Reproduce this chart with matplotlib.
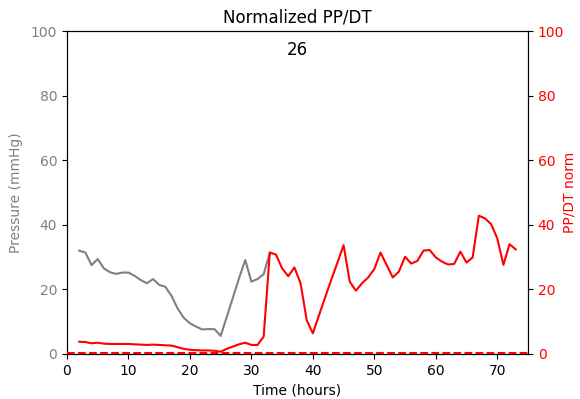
import matplotlib
matplotlib.use("Agg")
import matplotlib.pyplot as plt
import numpy as np

# %% Data
hours_p = np.arange(2, 34)
pressure = [32, 31.4, 27.5, 29.4, 26.5, 25.3, 24.8, 25.2, 25.2, 24.2, 22.9,
            21.9, 23.2, 21.4, 20.8, 18, 14.1, 11.2, 9.5, 8.5, 7.6, 7.7, 7.7,
            5.6, 11.5, 17.5, 23.5, 29.1, 22.4, 23.2, 24.7, 31.4]

hours_n = np.arange(2, 74)
ppdt_norm = [3.8, 3.7, 3.3, 3.5, 3.2, 3.1, 3.1, 3.1, 3.1, 3.0, 2.9, 2.8,
             2.9, 2.8, 2.7, 2.6, 2.1, 1.6, 1.3, 1.2, 1.1, 1.1, 1.0, 0.7,
             1.6, 2.3, 3.0, 3.5, 2.8, 2.8, 5.4, 31.4, 30.8, 26.5, 24.1,
             26.8, 21.9, 10.5, 6.4, 12, 17.5, 23, 28.3, 33.7, 22.4, 19.6,
             21.9, 23.7, 26.3, 31.4, 27.6, 23.7, 25.5, 30.1, 28, 28.8, 32,
             32.2, 29.9, 28.6, 27.7, 27.9, 31.7, 28.3, 29.9, 42.8, 42, 40.2,
             35.8, 27.6, 34, 32.4]

label_num = "26"

# %% Plot
fig, ax = plt.subplots(figsize=(5.8, 3.99), dpi=100)
fig.subplots_adjust(left=0.1155, right=0.9103, bottom=0.1128, top=0.9223)

ax.plot(hours_p, pressure, color="gray", lw=1.5)
ax.set_ylim(0, 100)
ax.set_xlim(0, 75)
ax.set_ylabel("Pressure (mmHg)", color="gray", labelpad=5.5)
ax.tick_params(axis="y", labelcolor="gray")
ax.set_xlabel("Time (hours)")
ax.set_title("Normalized PP/DT")
ax.text(0.5, 0.94, label_num, transform=ax.transAxes, ha="center",
        va="center", fontsize=12)

ax2 = ax.twinx()
ax2.plot(hours_n, ppdt_norm, color="red", lw=1.5)
ax2.axhline(0.2, color="red", ls="--", lw=1.5, zorder=3, clip_on=False)
ax2.set_ylim(0, 100)
ax2.set_ylabel("PP/DT norm", color="red", labelpad=-1)
ax2.tick_params(axis="y", labelcolor="red")

fig.savefig("out.png")
